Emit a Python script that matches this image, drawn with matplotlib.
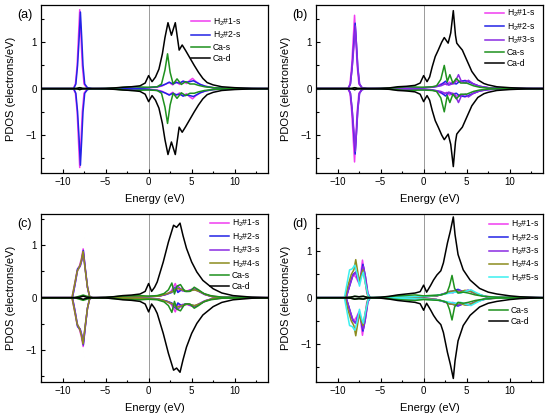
import numpy as np
import matplotlib
matplotlib.use('Agg')
from matplotlib import pyplot as plt

plt.rcParams['font.family'] = ['Liberation Sans', 'DejaVu Sans']
plt.rcParams['mathtext.fontset'] = 'custom'
plt.rcParams['mathtext.rm'] = 'Liberation Sans'
plt.rcParams['mathtext.it'] = 'Liberation Sans:italic'
plt.rcParams['axes.unicode_minus'] = True

# colours of the projections
C_H1 = '#f03cf0'
C_H2 = '#2323e6'
C_H3 = '#8a2be2'
C_H4 = '#8c8c1e'
C_H5 = '#3cf0f0'
C_CAS = '#1e911e'
C_CAD = '#000000'

# ---------------- panel (a) : spin up values, spin down is the mirror ----------------
a_h1_e = [-12.4, -8.75, -8.5, -8.3, -8.15, -8.0, -7.85, -7.7, -7.5, -7.2, -6.5, -3, -1, 0, 1, 1.6, 2.0, 2.4,
          2.8, 3.2, 3.6, 4.0, 4.4, 4.8, 5.1, 5.5, 6.0, 6.6, 7.5, 9, 13.9]
a_h1_v = [0, 0, 0.1, 0.5, 1.1, 1.70, 1.1, 0.5, 0.1, 0.02, 0, 0.005, 0.01, 0.02, 0.03, 0.06, 0.1, 0.13,
          0.08, 0.15, 0.09, 0.16, 0.11, 0.18, 0.22, 0.15, 0.09, 0.05, 0.02, 0.005, 0]
a_h2_e = [-12.4, -8.7, -8.45, -8.25, -8.08, -7.92, -7.77, -7.62, -7.42, -7.1, -6.5, -3, -1, 0, 1, 1.6, 2.0,
          2.4, 2.8, 3.2, 3.6, 4.0, 4.4, 4.8, 5.2, 5.6, 6.0, 6.6, 7.5, 9, 13.9]
a_h2_v = [0, 0, 0.1, 0.5, 1.05, 1.65, 1.1, 0.5, 0.1, 0.02, 0, 0.005, 0.01, 0.02, 0.04, 0.07, 0.1, 0.14,
          0.1, 0.13, 0.12, 0.16, 0.14, 0.15, 0.17, 0.13, 0.09, 0.05, 0.02, 0.005, 0]
a_cas_e = [-12.4, -8.4, -8.0, -7.6, -6, -4, -2, 0, 1, 1.5, 1.9, 2.2, 2.5, 2.85, 3.3, 3.8, 4.3, 4.8, 5.3, 5.8,
           6.5, 7.5, 9, 13.9]
a_cas_v = [0, 0, 0.02, 0, 0, 0.01, 0.04, 0.03, 0.04, 0.1, 0.4, 0.75, 0.35, 0.1, 0.21, 0.09, 0.15, 0.1, 0.1, 0.07,
           0.04, 0.02, 0.005, 0]
a_cad_e = [-12.4, -9, -8.3, -8.0, -7.7, -7, -5, -4, -3, -2, -1, -0.4, 0, 0.4, 0.8, 1.2, 1.6, 1.9, 2.25, 2.65,
           3.1, 3.55, 3.9, 4.3, 4.8, 5.3, 5.8, 6.3, 6.8, 7.5, 8.5, 10, 12, 13.9]
a_cad_v = [0, 0, 0.005, 0.02, 0.005, 0, 0.005, 0.015, 0.03, 0.04, 0.06, 0.12, 0.28, 0.15, 0.25, 0.42, 0.75, 1.1,
           1.42, 1.15, 1.42, 0.83, 0.94, 0.82, 0.66, 0.5, 0.35, 0.22, 0.13, 0.08, 0.04, 0.02, 0.005, 0]

# ---------------- panel (b) ----------------
b_h1_e = [-12.4, -8.8, -8.55, -8.35, -8.18, -8.02, -7.87, -7.72, -7.52, -7.2, -6.5, -3, -1, 0, 1.0, 1.6, 2.0,
          2.4, 2.7, 3.0, 3.4, 3.8, 4.3, 4.8, 5.3, 5.8, 6.5, 7.5, 9, 13.9]
b_h1_v = [0, 0, 0.1, 0.5, 1.05, 1.58, 1.05, 0.5, 0.1, 0.02, 0, 0.005, 0.01, 0.02, 0.03, 0.06, 0.1,
          0.12, 0.08, 0.14, 0.1, 0.16, 0.14, 0.18, 0.15, 0.1, 0.05, 0.02, 0.005, 0]
b_h2_e = [-12.4, -8.75, -8.5, -8.3, -8.12, -7.95, -7.8, -7.65, -7.45, -7.15, -6.5, -3, -1, 0, 1.0, 1.6, 2.0,
          2.55, 2.9, 3.3, 3.8, 4.2, 4.8, 5.3, 5.8, 6.5, 7.5, 9, 13.9]
b_h2_v = [0, 0, 0.1, 0.45, 0.95, 1.41, 0.95, 0.45, 0.1, 0.02, 0, 0.005, 0.01, 0.02, 0.03, 0.05, 0.08,
          0.16, 0.08, 0.12, 0.1, 0.16, 0.17, 0.14, 0.1, 0.05, 0.02, 0.005, 0]
b_h3_e = [-12.4, -8.75, -8.5, -8.3, -8.1, -7.93, -7.78, -7.63, -7.43, -7.15, -6.5, -3, -1, 0, 1.0, 2.0, 2.5,
          3.0, 3.6, 4.05, 4.4, 4.9, 5.2, 5.8, 6.5, 7.5, 9, 13.9]
b_h3_v = [0, 0, 0.1, 0.45, 0.9, 1.35, 0.9, 0.45, 0.1, 0.02, 0, 0.005, 0.01, 0.02, 0.03, 0.06, 0.1,
          0.08, 0.12, 0.3, 0.15, 0.12, 0.18, 0.1, 0.05, 0.02, 0.005, 0]
b_cas_e = [-12.4, -8.4, -8.0, -7.6, -6, -4, -2, 0, 1, 1.5, 2.0, 2.4, 2.75, 3.05, 3.4, 3.8, 4.3, 5.0, 5.8, 6.5,
           7.5, 9, 13.9]
b_cas_v = [0, 0, 0.02, 0, 0, 0.01, 0.04, 0.03, 0.04, 0.06, 0.2, 0.5, 0.15, 0.3, 0.12, 0.22, 0.12, 0.12, 0.06,
           0.03, 0.01, 0.003, 0]
b_cad_e = [-12.4, -9, -8.3, -8.0, -7.7, -7, -5, -4, -3, -2, -1, -0.4, 0, 0.4, 0.7, 1.0, 1.35, 1.7, 2.1, 2.4,
           2.85, 3.15, 3.45, 3.7, 3.85, 4.1, 4.5, 5.0, 5.6, 6.3, 7.0, 7.5, 8.5, 10, 12, 13.9]
b_cad_v = [0, 0, 0.005, 0.02, 0.005, 0, 0.005, 0.015, 0.04, 0.05, 0.07, 0.12, 0.28, 0.15, 0.25, 0.47, 0.69, 0.83,
           1.0, 1.1, 0.98, 1.2, 1.68, 1.15, 0.98, 0.92, 0.83, 0.62, 0.37, 0.19, 0.11, 0.08, 0.04, 0.02, 0.005, 0]

# ---------------- panel (c) ----------------
c_h1_e = [-12.4, -8.9, -8.6, -8.3, -8.0, -7.8, -7.6, -7.35, -7.1, -6.85, -6.5, -3, 0, 1.2, 2.0, 2.6, 3.1, 3.4,
          3.8, 4.3, 4.8, 5.3, 5.8, 6.4, 7.2, 8.5, 13.9]
c_h1_v = [0, 0, 0.25, 0.52, 0.62, 0.75, 0.93, 0.55, 0.2, 0.02, 0, 0.01, 0.02, 0.03, 0.06, 0.12, 0.27, 0.12,
          0.18, 0.12, 0.15, 0.17, 0.13, 0.08, 0.03, 0.01, 0]
c_h2_e = [-12.4, -8.85, -8.55, -8.25, -7.95, -7.75, -7.58, -7.35, -7.1, -6.85, -6.5, -3, 0, 1.2, 2.0, 2.7,
          3.1, 3.4, 3.9, 4.4, 5.0, 5.5, 6.0, 6.6, 7.4, 8.5, 13.9]
c_h2_v = [0, 0, 0.25, 0.55, 0.6, 0.72, 0.9, 0.55, 0.2, 0.02, 0, 0.01, 0.02, 0.03, 0.06, 0.1, 0.2, 0.1, 0.16,
          0.12, 0.14, 0.16, 0.11, 0.06, 0.02, 0.005, 0]
c_h3_e = [-12.4, -8.85, -8.55, -8.25, -7.95, -7.75, -7.6, -7.35, -7.1, -6.85, -6.5, -3, 0, 1.2, 2.3, 2.9, 3.4,
          3.9, 4.5, 5.2, 5.8, 6.5, 7.4, 8.5, 13.9]
c_h3_v = [0, 0, 0.25, 0.52, 0.6, 0.72, 0.88, 0.52, 0.2, 0.02, 0, 0.01, 0.02, 0.03, 0.08, 0.15, 0.22, 0.13, 0.12,
          0.17, 0.12, 0.06, 0.02, 0.005, 0]
c_h4_e = [-12.4, -8.9, -8.6, -8.3, -8.0, -7.8, -7.62, -7.35, -7.1, -6.85, -6.5, -3, 0, 1.2, 2.2, 2.8, 3.3, 3.9,
          4.6, 5.3, 5.9, 6.6, 7.4, 8.5, 13.9]
c_h4_v = [0, 0, 0.25, 0.5, 0.6, 0.72, 0.88, 0.52, 0.2, 0.02, 0, 0.01, 0.02, 0.03, 0.08, 0.12, 0.18, 0.15, 0.12,
          0.15, 0.12, 0.06, 0.02, 0.005, 0]
c_cas_e = [-12.4, -8.6, -8.2, -7.6, -7.0, -6.6, -5, -3, -1, 0, 1, 1.8, 2.3, 2.7, 3.0, 3.3, 3.7, 4.2, 4.8, 5.3,
           5.8, 6.4, 7.2, 8.5, 13.9]
c_cas_v = [0, 0, 0.02, 0.05, 0.02, 0, 0.005, 0.03, 0.04, 0.03, 0.04, 0.08, 0.15, 0.28, 0.07, 0.22, 0.25, 0.12,
           0.12, 0.2, 0.15, 0.08, 0.04, 0.01, 0]
c_cad_e = [-12.4, -9, -8.0, -7.6, -7.2, -6.5, -5, -4, -3, -2, -1, -0.4, 0, 0.35, 0.7, 1.0, 1.7, 2.3, 2.9, 3.25,
           3.65, 4.0, 4.4, 5.0, 5.6, 6.3, 7.5, 8.5, 9.8, 12, 13.9]
c_cad_v = [0, 0, 0.01, 0.03, 0.01, 0, 0.005, 0.02, 0.04, 0.05, 0.07, 0.12, 0.27, 0.12, 0.2, 0.3, 0.68, 1.06,
           1.38, 1.34, 1.42, 1.18, 0.94, 0.68, 0.49, 0.33, 0.17, 0.09, 0.04, 0.01, 0]

# ---------------- panel (d) ----------------
d_h1_e = [-12.4, -9.0, -8.7, -8.4, -8.1, -7.8, -7.5, -7.3, -7.1, -6.9, -6.6, -6.3, -3, 0, 1.5, 2.3, 2.9, 3.4,
          3.9, 4.5, 5.1, 5.7, 6.4, 7.2, 8.5, 13.9]
d_h1_v = [0, 0, 0.2, 0.42, 0.5, 0.42, 0.3, 0.5, 0.81, 0.55, 0.1, 0, 0.01, 0.02, 0.04, 0.08, 0.13, 0.1, 0.17,
          0.12, 0.16, 0.12, 0.07, 0.03, 0.01, 0]
d_h2_e = [-12.4, -9.0, -8.6, -8.2, -7.9, -7.5, -7.3, -7.05, -6.8, -6.5, -6.2, -3, 0, 1.5, 2.4, 3.0, 3.5, 4.0,
          4.6, 5.2, 5.8, 6.5, 7.3, 8.5, 13.9]
d_h2_v = [0, 0, 0.25, 0.5, 0.55, 0.32, 0.45, 0.72, 0.5, 0.1, 0, 0.01, 0.02, 0.04, 0.09, 0.12, 0.15, 0.18,
          0.13, 0.16, 0.11, 0.06, 0.02, 0.005, 0]
d_h3_e = [-12.4, -9.0, -8.6, -8.2, -7.9, -7.5, -7.3, -7.0, -6.75, -6.45, -6.2, -3, 0, 1.5, 2.4, 3.1, 3.6, 4.1,
          4.7, 5.3, 5.9, 6.6, 7.3, 8.5, 13.9]
d_h3_v = [0, 0, 0.25, 0.48, 0.55, 0.35, 0.45, 0.68, 0.45, 0.08, 0, 0.01, 0.02, 0.04, 0.08, 0.14, 0.12, 0.16,
          0.13, 0.15, 0.1, 0.05, 0.02, 0.005, 0]
d_h4_e = [-12.4, -9.1, -8.8, -8.4, -8.1, -7.88, -7.6, -7.45, -7.25, -7.05, -6.8, -6.5, -6.2, -3, 0, 1.5, 2.4,
          3.0, 3.6, 4.2, 4.8, 5.4, 6.0, 6.7, 7.4, 8.5, 13.9]
d_h4_v = [0, 0, 0.25, 0.5, 0.6, 0.82, 0.5, 0.35, 0.5, 0.6, 0.35, 0.05, 0, 0.01, 0.02, 0.04, 0.08, 0.13, 0.15,
          0.12, 0.16, 0.14, 0.1, 0.05, 0.02, 0.005, 0]
d_h5_e = [-12.4, -9.2, -8.9, -8.6, -8.3, -8.0, -7.7, -7.45, -7.2, -7.0, -6.75, -6.45, -6.2, -3, 0, 1.5, 2.5,
          3.1, 3.7, 4.3, 4.9, 5.5, 6.1, 6.8, 7.5, 8.5, 13.9]
d_h5_v = [0, 0, 0.3, 0.6, 0.62, 0.7, 0.5, 0.25, 0.45, 0.55, 0.3, 0.05, 0, 0.01, 0.03, 0.05, 0.08, 0.1, 0.12,
          0.1, 0.14, 0.17, 0.11, 0.05, 0.02, 0.005, 0]
d_cas_e = [-12.4, -9.2, -8.5, -8.0, -7.5, -7.0, -6.5, -5, -3, -1, 0, 1, 2, 2.7, 3.0, 3.3, 3.6, 4.0, 4.6, 5.2,
           6.0, 7.0, 8.5, 13.9]
d_cas_v = [0, 0, 0.01, 0.03, 0.02, 0.03, 0.005, 0.005, 0.04, 0.06, 0.04, 0.05, 0.06, 0.1, 0.25, 0.48, 0.2, 0.1,
           0.12, 0.1, 0.06, 0.03, 0.01, 0]
d_cad_e = [-12.4, -9.5, -8.5, -8.0, -7.5, -7.0, -6.5, -6, -5, -4, -3, -2, -1, -0.4, 0, 0.35, 0.8, 1.15, 1.55,
           2.0, 2.3, 2.77, 3.1, 3.45, 3.65, 4.0, 4.6, 5.4, 6.5, 7.5, 8.5, 10, 11.2, 13.9]
d_cad_v = [0, 0, 0.01, 0.03, 0.02, 0.03, 0.005, 0, 0.01, 0.03, 0.06, 0.08, 0.1, 0.13, 0.27, 0.12, 0.26, 0.38,
           0.49, 0.58, 0.75, 1.18, 1.43, 1.74, 1.36, 0.93, 0.6, 0.38, 0.2, 0.12, 0.08, 0.04, 0.02, 0]

h_labels = ['H$_2$#1-s', 'H$_2$#2-s', 'H$_2$#3-s', 'H$_2$#4-s', 'H$_2$#5-s']
h_colours = [C_H1, C_H2, C_H3, C_H4, C_H5]

panels = [
    ('(a)', [(a_h1_e, a_h1_v), (a_h2_e, a_h2_v)], (a_cas_e, a_cas_v), (a_cad_e, a_cad_v), 1.81),
    ('(b)', [(b_h1_e, b_h1_v), (b_h2_e, b_h2_v), (b_h3_e, b_h3_v)], (b_cas_e, b_cas_v), (b_cad_e, b_cad_v), 1.81),
    ('(c)', [(c_h1_e, c_h1_v), (c_h2_e, c_h2_v), (c_h3_e, c_h3_v), (c_h4_e, c_h4_v)],
     (c_cas_e, c_cas_v), (c_cad_e, c_cad_v), 1.6),
    ('(d)', [(d_h1_e, d_h1_v), (d_h2_e, d_h2_v), (d_h3_e, d_h3_v), (d_h4_e, d_h4_v), (d_h5_e, d_h5_v)],
     (d_cas_e, d_cas_v), (d_cad_e, d_cad_v), 1.81),
]

# axes boxes in figure fraction
boxes = [[0.0745, 0.588, 0.4133, 0.401], [0.5745, 0.588, 0.4133, 0.401],
         [0.0745, 0.089, 0.4133, 0.401], [0.5745, 0.089, 0.4133, 0.401]]
tags_xy = [(0.031, 0.964), (0.531, 0.964), (0.031, 0.465), (0.531, 0.465)]
leg_anchor = [(0.66, 0.93), (0.745, 0.98), (0.745, 0.975), (0.762, 0.97)]

fig = plt.figure(figsize=(5.5, 4.19), dpi=100)
LW = 1.1

for i, (tag, hs, cas, cad, ylim) in enumerate(panels):
    ax = fig.add_axes(boxes[i])
    ax.axvline(0, color='#9a9a9a', lw=0.7, zorder=0)
    handles = []
    for k, (e, v) in enumerate(hs):
        ln, = ax.plot(e, v, color=h_colours[k], lw=LW, label=h_labels[k])
        ax.plot(e, -np.array(v), color=h_colours[k], lw=LW)
        handles.append(ln)
    ln_s, = ax.plot(cas[0], cas[1], color=C_CAS, lw=LW, label='Ca-s')
    ax.plot(cas[0], -np.array(cas[1]), color=C_CAS, lw=LW)
    ln_d, = ax.plot(cad[0], cad[1], color=C_CAD, lw=LW, label='Ca-d')
    ax.plot(cad[0], -np.array(cad[1]), color=C_CAD, lw=LW)

    ax.set_xlim(-12.4, 13.9)
    ax.set_ylim(-ylim, ylim)
    ax.set_xticks([-10, -5, 0, 5, 10])
    ax.set_xticks([-12.5, -7.5, -2.5, 2.5, 7.5, 12.5], minor=True)
    ax.set_yticks([-1, 0, 1])
    ax.set_yticks([-1.5, -0.5, 0.5, 1.5], minor=True)
    ax.tick_params(which='both', direction='in', labelsize=7, width=0.8)
    ax.tick_params(which='major', length=3, pad=3)
    ax.tick_params(which='minor', length=1.8)
    for sp in ax.spines.values():
        sp.set_linewidth(0.9)
    ax.set_xlabel('Energy (eV)', fontsize=8, labelpad=5)
    ax.set_ylabel('PDOS (electrons/eV)', fontsize=8, labelpad=7)

    leg_kw = dict(frameon=False, fontsize=6.2, handlelength=2.2, handletextpad=0.3,
                  labelspacing=0.22, borderpad=0, borderaxespad=0, loc='upper left')
    if tag == '(d)':
        leg2 = ax.legend(handles=[ln_s, ln_d], bbox_to_anchor=(0.762, 0.45), **leg_kw)
        ax.add_artist(leg2)
        ax.legend(handles=handles, bbox_to_anchor=leg_anchor[i], **leg_kw)
    else:
        ax.legend(handles=handles + [ln_s, ln_d], bbox_to_anchor=leg_anchor[i], **leg_kw)

    fig.text(tags_xy[i][0], tags_xy[i][1], tag, fontsize=9, va='center', ha='left')

fig.savefig('out.png', dpi=100)
